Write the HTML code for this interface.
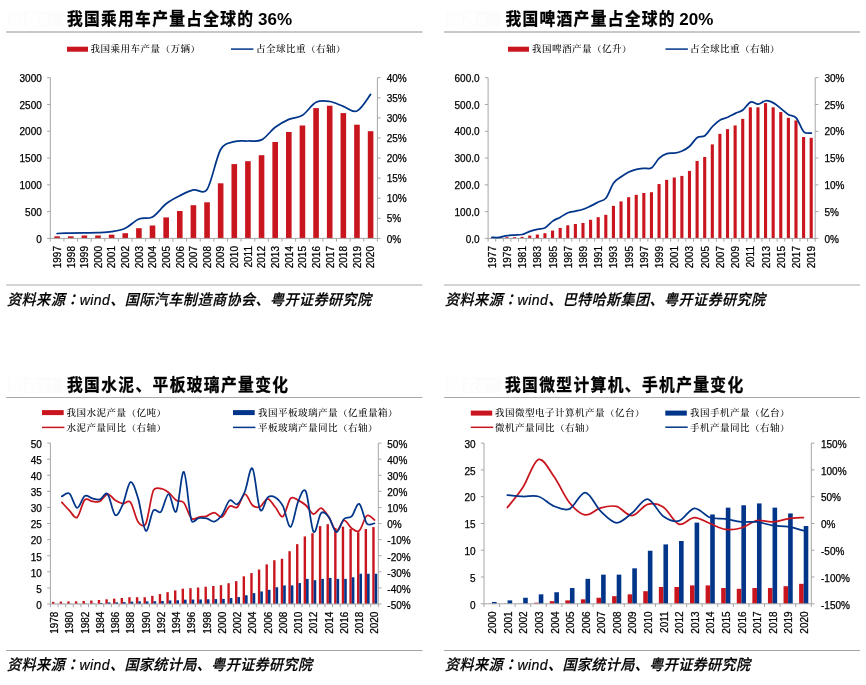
<!DOCTYPE html>
<html lang="zh-CN"><head><meta charset="utf-8"><title>charts</title>
<style>html,body{margin:0;padding:0;background:#fff}svg{display:block}</style></head>
<body>
<svg width="866" height="685" viewBox="0 0 866 685">
<rect width="866" height="685" fill="#fff"/>
<rect x="8.1" y="11.5" width="55" height="15" fill="#fcfcfc"/>
<text x="10.1" y="25" font-size="15" font-family='"Liberation Sans", "Noto Sans CJK SC", sans-serif' text-anchor="start" font-weight="bold" font-style="normal" fill="#ffffff">图表5：</text>
<text transform="translate(67 25) scale(0.9 1)" font-size="17.5" font-family='"Liberation Sans", "Noto Sans CJK SC", sans-serif' text-anchor="start" font-weight="bold" font-style="normal" fill="#000" textLength="206.67" lengthAdjust="spacing" stroke="#000" stroke-width="0.3">我国乘用车产量占全球的</text>
<text x="258" y="24.7" font-size="17" font-family='"Liberation Sans", "Noto Sans CJK SC", sans-serif' text-anchor="start" font-weight="bold" font-style="normal" fill="#000">36%</text>
<line x1="6.1" y1="32" x2="422.5" y2="32" stroke="#c8c8c8" stroke-width="2"/>
<rect x="67" y="46.7" width="21" height="5" fill="#c9151e"/>
<text transform="translate(90.5 49.1) scale(1 0.9)" y="3.5" font-size="9.6" letter-spacing="0.4" font-weight="500" font-family='"Liberation Serif", "Noto Serif CJK SC", serif'>我国乘用车产量（万辆）</text>
<line x1="231" y1="49.1" x2="253.4" y2="49.1" stroke="#00358a" stroke-width="1.5"/>
<text transform="translate(256 49.1) scale(1 0.9)" y="3.5" font-size="9.6" letter-spacing="0.4" font-weight="500" font-family='"Liberation Serif", "Noto Serif CJK SC", serif'>占全球比重（右轴）</text>
<rect x="54.31" y="236.3" width="5.6" height="2.1" fill="#c9151e"/>
<rect x="67.94" y="236.3" width="5.6" height="2.1" fill="#c9151e"/>
<rect x="81.57" y="235.5" width="5.6" height="2.9" fill="#c9151e"/>
<rect x="95.2" y="235.5" width="5.6" height="2.9" fill="#c9151e"/>
<rect x="108.83" y="234.7" width="5.6" height="3.7" fill="#c9151e"/>
<rect x="122.46" y="233.2" width="5.6" height="5.2" fill="#c9151e"/>
<rect x="136.09" y="228.2" width="5.6" height="10.2" fill="#c9151e"/>
<rect x="149.72" y="225.5" width="5.6" height="12.9" fill="#c9151e"/>
<rect x="163.35" y="217.4" width="5.6" height="21" fill="#c9151e"/>
<rect x="176.98" y="211" width="5.6" height="27.4" fill="#c9151e"/>
<rect x="190.61" y="205.2" width="5.6" height="33.2" fill="#c9151e"/>
<rect x="204.24" y="202.3" width="5.6" height="36.1" fill="#c9151e"/>
<rect x="217.86" y="183.3" width="5.6" height="55.1" fill="#c9151e"/>
<rect x="231.49" y="164.1" width="5.6" height="74.3" fill="#c9151e"/>
<rect x="245.12" y="161.2" width="5.6" height="77.2" fill="#c9151e"/>
<rect x="258.75" y="155.2" width="5.6" height="83.2" fill="#c9151e"/>
<rect x="272.38" y="142" width="5.6" height="96.4" fill="#c9151e"/>
<rect x="286.01" y="132" width="5.6" height="106.4" fill="#c9151e"/>
<rect x="299.64" y="125.5" width="5.6" height="112.9" fill="#c9151e"/>
<rect x="313.27" y="108.1" width="5.6" height="130.3" fill="#c9151e"/>
<rect x="326.9" y="105.7" width="5.6" height="132.7" fill="#c9151e"/>
<rect x="340.53" y="113.1" width="5.6" height="125.3" fill="#c9151e"/>
<rect x="354.16" y="124.7" width="5.6" height="113.7" fill="#c9151e"/>
<rect x="367.79" y="131.2" width="5.6" height="107.2" fill="#c9151e"/>
<g stroke="#a6a6a6" stroke-width="1" fill="none">
<line x1="50.3" y1="77.7" x2="50.3" y2="238.4"/>
<line x1="377.4" y1="77.7" x2="377.4" y2="238.4"/>
<line x1="50.3" y1="238.4" x2="377.4" y2="238.4"/>
<line x1="47.1" y1="77.7" x2="50.3" y2="77.7"/>
<line x1="47.1" y1="104.48" x2="50.3" y2="104.48"/>
<line x1="47.1" y1="131.27" x2="50.3" y2="131.27"/>
<line x1="47.1" y1="158.05" x2="50.3" y2="158.05"/>
<line x1="47.1" y1="184.83" x2="50.3" y2="184.83"/>
<line x1="47.1" y1="211.62" x2="50.3" y2="211.62"/>
<line x1="47.1" y1="238.4" x2="50.3" y2="238.4"/>
<line x1="377.4" y1="77.7" x2="380.6" y2="77.7"/>
<line x1="377.4" y1="97.79" x2="380.6" y2="97.79"/>
<line x1="377.4" y1="117.88" x2="380.6" y2="117.88"/>
<line x1="377.4" y1="137.96" x2="380.6" y2="137.96"/>
<line x1="377.4" y1="158.05" x2="380.6" y2="158.05"/>
<line x1="377.4" y1="178.14" x2="380.6" y2="178.14"/>
<line x1="377.4" y1="198.22" x2="380.6" y2="198.22"/>
<line x1="377.4" y1="218.31" x2="380.6" y2="218.31"/>
<line x1="377.4" y1="238.4" x2="380.6" y2="238.4"/>
<line x1="50.3" y1="238.4" x2="50.3" y2="241.6"/>
<line x1="63.93" y1="238.4" x2="63.93" y2="241.6"/>
<line x1="77.56" y1="238.4" x2="77.56" y2="241.6"/>
<line x1="91.19" y1="238.4" x2="91.19" y2="241.6"/>
<line x1="104.82" y1="238.4" x2="104.82" y2="241.6"/>
<line x1="118.45" y1="238.4" x2="118.45" y2="241.6"/>
<line x1="132.07" y1="238.4" x2="132.07" y2="241.6"/>
<line x1="145.7" y1="238.4" x2="145.7" y2="241.6"/>
<line x1="159.33" y1="238.4" x2="159.33" y2="241.6"/>
<line x1="172.96" y1="238.4" x2="172.96" y2="241.6"/>
<line x1="186.59" y1="238.4" x2="186.59" y2="241.6"/>
<line x1="200.22" y1="238.4" x2="200.22" y2="241.6"/>
<line x1="213.85" y1="238.4" x2="213.85" y2="241.6"/>
<line x1="227.48" y1="238.4" x2="227.48" y2="241.6"/>
<line x1="241.11" y1="238.4" x2="241.11" y2="241.6"/>
<line x1="254.74" y1="238.4" x2="254.74" y2="241.6"/>
<line x1="268.37" y1="238.4" x2="268.37" y2="241.6"/>
<line x1="282" y1="238.4" x2="282" y2="241.6"/>
<line x1="295.62" y1="238.4" x2="295.62" y2="241.6"/>
<line x1="309.25" y1="238.4" x2="309.25" y2="241.6"/>
<line x1="322.88" y1="238.4" x2="322.88" y2="241.6"/>
<line x1="336.51" y1="238.4" x2="336.51" y2="241.6"/>
<line x1="350.14" y1="238.4" x2="350.14" y2="241.6"/>
<line x1="363.77" y1="238.4" x2="363.77" y2="241.6"/>
<line x1="377.4" y1="238.4" x2="377.4" y2="241.6"/>
</g>
<text x="41.8" y="81.8" font-size="10" font-family='"Liberation Sans", "Noto Sans CJK SC", sans-serif' text-anchor="end" font-weight="normal" font-style="normal" fill="#000" stroke="#000" stroke-width="0.25">3000</text>
<text x="41.8" y="108.58" font-size="10" font-family='"Liberation Sans", "Noto Sans CJK SC", sans-serif' text-anchor="end" font-weight="normal" font-style="normal" fill="#000" stroke="#000" stroke-width="0.25">2500</text>
<text x="41.8" y="135.37" font-size="10" font-family='"Liberation Sans", "Noto Sans CJK SC", sans-serif' text-anchor="end" font-weight="normal" font-style="normal" fill="#000" stroke="#000" stroke-width="0.25">2000</text>
<text x="41.8" y="162.15" font-size="10" font-family='"Liberation Sans", "Noto Sans CJK SC", sans-serif' text-anchor="end" font-weight="normal" font-style="normal" fill="#000" stroke="#000" stroke-width="0.25">1500</text>
<text x="41.8" y="188.93" font-size="10" font-family='"Liberation Sans", "Noto Sans CJK SC", sans-serif' text-anchor="end" font-weight="normal" font-style="normal" fill="#000" stroke="#000" stroke-width="0.25">1000</text>
<text x="41.8" y="215.72" font-size="10" font-family='"Liberation Sans", "Noto Sans CJK SC", sans-serif' text-anchor="end" font-weight="normal" font-style="normal" fill="#000" stroke="#000" stroke-width="0.25">500</text>
<text x="41.8" y="242.5" font-size="10" font-family='"Liberation Sans", "Noto Sans CJK SC", sans-serif' text-anchor="end" font-weight="normal" font-style="normal" fill="#000" stroke="#000" stroke-width="0.25">0</text>
<text x="386.7" y="81.8" font-size="10" font-family='"Liberation Sans", "Noto Sans CJK SC", sans-serif' text-anchor="start" font-weight="normal" font-style="normal" fill="#000" stroke="#000" stroke-width="0.25">40%</text>
<text x="386.7" y="101.89" font-size="10" font-family='"Liberation Sans", "Noto Sans CJK SC", sans-serif' text-anchor="start" font-weight="normal" font-style="normal" fill="#000" stroke="#000" stroke-width="0.25">35%</text>
<text x="386.7" y="121.97" font-size="10" font-family='"Liberation Sans", "Noto Sans CJK SC", sans-serif' text-anchor="start" font-weight="normal" font-style="normal" fill="#000" stroke="#000" stroke-width="0.25">30%</text>
<text x="386.7" y="142.06" font-size="10" font-family='"Liberation Sans", "Noto Sans CJK SC", sans-serif' text-anchor="start" font-weight="normal" font-style="normal" fill="#000" stroke="#000" stroke-width="0.25">25%</text>
<text x="386.7" y="162.15" font-size="10" font-family='"Liberation Sans", "Noto Sans CJK SC", sans-serif' text-anchor="start" font-weight="normal" font-style="normal" fill="#000" stroke="#000" stroke-width="0.25">20%</text>
<text x="386.7" y="182.24" font-size="10" font-family='"Liberation Sans", "Noto Sans CJK SC", sans-serif' text-anchor="start" font-weight="normal" font-style="normal" fill="#000" stroke="#000" stroke-width="0.25">15%</text>
<text x="386.7" y="202.32" font-size="10" font-family='"Liberation Sans", "Noto Sans CJK SC", sans-serif' text-anchor="start" font-weight="normal" font-style="normal" fill="#000" stroke="#000" stroke-width="0.25">10%</text>
<text x="386.7" y="222.41" font-size="10" font-family='"Liberation Sans", "Noto Sans CJK SC", sans-serif' text-anchor="start" font-weight="normal" font-style="normal" fill="#000" stroke="#000" stroke-width="0.25">5%</text>
<text x="386.7" y="242.5" font-size="10" font-family='"Liberation Sans", "Noto Sans CJK SC", sans-serif' text-anchor="start" font-weight="normal" font-style="normal" fill="#000" stroke="#000" stroke-width="0.25">0%</text>
<text transform="translate(60.91 246) rotate(-90)" font-size="10" font-family='"Liberation Sans", "Noto Sans CJK SC", sans-serif' text-anchor="end" stroke="#000" stroke-width="0.25">1997</text>
<text transform="translate(74.54 246) rotate(-90)" font-size="10" font-family='"Liberation Sans", "Noto Sans CJK SC", sans-serif' text-anchor="end" stroke="#000" stroke-width="0.25">1998</text>
<text transform="translate(88.17 246) rotate(-90)" font-size="10" font-family='"Liberation Sans", "Noto Sans CJK SC", sans-serif' text-anchor="end" stroke="#000" stroke-width="0.25">1999</text>
<text transform="translate(101.8 246) rotate(-90)" font-size="10" font-family='"Liberation Sans", "Noto Sans CJK SC", sans-serif' text-anchor="end" stroke="#000" stroke-width="0.25">2000</text>
<text transform="translate(115.43 246) rotate(-90)" font-size="10" font-family='"Liberation Sans", "Noto Sans CJK SC", sans-serif' text-anchor="end" stroke="#000" stroke-width="0.25">2001</text>
<text transform="translate(129.06 246) rotate(-90)" font-size="10" font-family='"Liberation Sans", "Noto Sans CJK SC", sans-serif' text-anchor="end" stroke="#000" stroke-width="0.25">2002</text>
<text transform="translate(142.69 246) rotate(-90)" font-size="10" font-family='"Liberation Sans", "Noto Sans CJK SC", sans-serif' text-anchor="end" stroke="#000" stroke-width="0.25">2003</text>
<text transform="translate(156.32 246) rotate(-90)" font-size="10" font-family='"Liberation Sans", "Noto Sans CJK SC", sans-serif' text-anchor="end" stroke="#000" stroke-width="0.25">2004</text>
<text transform="translate(169.95 246) rotate(-90)" font-size="10" font-family='"Liberation Sans", "Noto Sans CJK SC", sans-serif' text-anchor="end" stroke="#000" stroke-width="0.25">2005</text>
<text transform="translate(183.58 246) rotate(-90)" font-size="10" font-family='"Liberation Sans", "Noto Sans CJK SC", sans-serif' text-anchor="end" stroke="#000" stroke-width="0.25">2006</text>
<text transform="translate(197.21 246) rotate(-90)" font-size="10" font-family='"Liberation Sans", "Noto Sans CJK SC", sans-serif' text-anchor="end" stroke="#000" stroke-width="0.25">2007</text>
<text transform="translate(210.84 246) rotate(-90)" font-size="10" font-family='"Liberation Sans", "Noto Sans CJK SC", sans-serif' text-anchor="end" stroke="#000" stroke-width="0.25">2008</text>
<text transform="translate(224.46 246) rotate(-90)" font-size="10" font-family='"Liberation Sans", "Noto Sans CJK SC", sans-serif' text-anchor="end" stroke="#000" stroke-width="0.25">2009</text>
<text transform="translate(238.09 246) rotate(-90)" font-size="10" font-family='"Liberation Sans", "Noto Sans CJK SC", sans-serif' text-anchor="end" stroke="#000" stroke-width="0.25">2010</text>
<text transform="translate(251.72 246) rotate(-90)" font-size="10" font-family='"Liberation Sans", "Noto Sans CJK SC", sans-serif' text-anchor="end" stroke="#000" stroke-width="0.25">2011</text>
<text transform="translate(265.35 246) rotate(-90)" font-size="10" font-family='"Liberation Sans", "Noto Sans CJK SC", sans-serif' text-anchor="end" stroke="#000" stroke-width="0.25">2012</text>
<text transform="translate(278.98 246) rotate(-90)" font-size="10" font-family='"Liberation Sans", "Noto Sans CJK SC", sans-serif' text-anchor="end" stroke="#000" stroke-width="0.25">2013</text>
<text transform="translate(292.61 246) rotate(-90)" font-size="10" font-family='"Liberation Sans", "Noto Sans CJK SC", sans-serif' text-anchor="end" stroke="#000" stroke-width="0.25">2014</text>
<text transform="translate(306.24 246) rotate(-90)" font-size="10" font-family='"Liberation Sans", "Noto Sans CJK SC", sans-serif' text-anchor="end" stroke="#000" stroke-width="0.25">2015</text>
<text transform="translate(319.87 246) rotate(-90)" font-size="10" font-family='"Liberation Sans", "Noto Sans CJK SC", sans-serif' text-anchor="end" stroke="#000" stroke-width="0.25">2016</text>
<text transform="translate(333.5 246) rotate(-90)" font-size="10" font-family='"Liberation Sans", "Noto Sans CJK SC", sans-serif' text-anchor="end" stroke="#000" stroke-width="0.25">2017</text>
<text transform="translate(347.13 246) rotate(-90)" font-size="10" font-family='"Liberation Sans", "Noto Sans CJK SC", sans-serif' text-anchor="end" stroke="#000" stroke-width="0.25">2018</text>
<text transform="translate(360.76 246) rotate(-90)" font-size="10" font-family='"Liberation Sans", "Noto Sans CJK SC", sans-serif' text-anchor="end" stroke="#000" stroke-width="0.25">2019</text>
<text transform="translate(374.39 246) rotate(-90)" font-size="10" font-family='"Liberation Sans", "Noto Sans CJK SC", sans-serif' text-anchor="end" stroke="#000" stroke-width="0.25">2020</text>
<path d="M57.11 233.5C59.39 233.43 66.2 233.2 70.74 233.1C75.29 233 79.83 232.97 84.37 232.9C88.92 232.83 93.46 232.9 98 232.7C102.55 232.5 107.09 232.43 111.63 231.7C116.17 230.97 120.72 230.42 125.26 228.3C129.8 226.18 134.35 220.9 138.89 219C143.43 217.1 147.98 219.43 152.52 216.9C157.06 214.37 161.6 207.33 166.15 203.8C170.69 200.27 175.23 198.02 179.78 195.7C184.32 193.38 188.86 190.93 193.41 189.9C197.95 188.87 203.22 195.15 207.04 189.5C211.58 182.77 216.12 157.47 220.66 149.5C224.55 142.68 229.75 143.12 234.29 141.7C238.84 140.28 243.38 141.3 247.92 141C252.47 140.7 257.01 142.18 261.55 139.9C266.1 137.62 270.64 130.72 275.18 127.3C279.72 123.88 284.27 121.42 288.81 119.4C293.35 117.38 297.9 118.05 302.44 115.2C306.98 112.35 311.53 104.58 316.07 102.3C320.61 100.02 325.15 100.83 329.7 101.5C334.24 102.17 338.78 104.72 343.33 106.3C347.87 107.88 352.41 112.98 356.96 111C361.5 109.02 368.31 97.17 370.59 94.4" fill="none" stroke="#00358a" stroke-width="1.75" stroke-linecap="round" stroke-linejoin="round"/>
<line x1="6.1" y1="285" x2="422.5" y2="285" stroke="#d4d4d4" stroke-width="2"/>
<text transform="translate(7.1 305) scale(0.94 1)" font-size="15" font-family='"Liberation Sans", "Noto Sans CJK SC", sans-serif' text-anchor="start" font-weight="500" font-style="italic" fill="#000" textLength="387.23" lengthAdjust="spacing" stroke="#000" stroke-width="0.2">资料来源<tspan lang="ja" font-family='"Noto Sans CJK JP", sans-serif'>：</tspan>wind、国际汽车制造商协会、粤开证券研究院</text>
<rect x="446.1" y="11.5" width="55" height="15" fill="#fcfcfc"/>
<text x="448.1" y="25" font-size="15" font-family='"Liberation Sans", "Noto Sans CJK SC", sans-serif' text-anchor="start" font-weight="bold" font-style="normal" fill="#ffffff">图表6：</text>
<text transform="translate(505.5 25) scale(0.9 1)" font-size="17.5" font-family='"Liberation Sans", "Noto Sans CJK SC", sans-serif' text-anchor="start" font-weight="bold" font-style="normal" fill="#000" textLength="187.78" lengthAdjust="spacing" stroke="#000" stroke-width="0.3">我国啤酒产量占全球的</text>
<text x="679.3" y="24.7" font-size="17" font-family='"Liberation Sans", "Noto Sans CJK SC", sans-serif' text-anchor="start" font-weight="bold" font-style="normal" fill="#000">20%</text>
<line x1="444.1" y1="32" x2="860" y2="32" stroke="#c8c8c8" stroke-width="2"/>
<rect x="508" y="46.7" width="21" height="5" fill="#c9151e"/>
<text transform="translate(532 49.1) scale(1 0.9)" y="3.5" font-size="9.6" letter-spacing="0.4" font-weight="500" font-family='"Liberation Serif", "Noto Serif CJK SC", serif'>我国啤酒产量（亿升）</text>
<line x1="665.5" y1="49.1" x2="687.9" y2="49.1" stroke="#00358a" stroke-width="1.5"/>
<text transform="translate(690 49.1) scale(1 0.9)" y="3.5" font-size="9.6" letter-spacing="0.4" font-weight="500" font-family='"Liberation Serif", "Noto Serif CJK SC", serif'>占全球比重（右轴）</text>
<rect x="490.15" y="237.94" width="3.1" height="0.46" fill="#c9151e"/>
<rect x="497.76" y="237.67" width="3.1" height="0.73" fill="#c9151e"/>
<rect x="505.37" y="237.15" width="3.1" height="1.25" fill="#c9151e"/>
<rect x="512.97" y="237.15" width="3.1" height="1.25" fill="#c9151e"/>
<rect x="520.58" y="236.89" width="3.1" height="1.51" fill="#c9151e"/>
<rect x="528.19" y="235.57" width="3.1" height="2.83" fill="#c9151e"/>
<rect x="535.8" y="234.52" width="3.1" height="3.88" fill="#c9151e"/>
<rect x="543.4" y="233.21" width="3.1" height="5.19" fill="#c9151e"/>
<rect x="551.01" y="230.58" width="3.1" height="7.82" fill="#c9151e"/>
<rect x="558.62" y="227.95" width="3.1" height="10.45" fill="#c9151e"/>
<rect x="566.22" y="225.32" width="3.1" height="13.08" fill="#c9151e"/>
<rect x="573.83" y="224.01" width="3.1" height="14.39" fill="#c9151e"/>
<rect x="581.44" y="222.96" width="3.1" height="15.44" fill="#c9151e"/>
<rect x="589.04" y="219.8" width="3.1" height="18.6" fill="#c9151e"/>
<rect x="596.65" y="217.17" width="3.1" height="21.23" fill="#c9151e"/>
<rect x="604.26" y="214.81" width="3.1" height="23.59" fill="#c9151e"/>
<rect x="611.87" y="205.87" width="3.1" height="32.53" fill="#c9151e"/>
<rect x="619.47" y="201.41" width="3.1" height="36.99" fill="#c9151e"/>
<rect x="627.08" y="197.2" width="3.1" height="41.2" fill="#c9151e"/>
<rect x="634.69" y="194.84" width="3.1" height="43.56" fill="#c9151e"/>
<rect x="642.29" y="193" width="3.1" height="45.4" fill="#c9151e"/>
<rect x="649.9" y="192.21" width="3.1" height="46.19" fill="#c9151e"/>
<rect x="657.51" y="184.06" width="3.1" height="54.34" fill="#c9151e"/>
<rect x="665.11" y="179.86" width="3.1" height="58.54" fill="#c9151e"/>
<rect x="672.72" y="177.49" width="3.1" height="60.91" fill="#c9151e"/>
<rect x="680.33" y="175.91" width="3.1" height="62.49" fill="#c9151e"/>
<rect x="687.93" y="170.92" width="3.1" height="67.48" fill="#c9151e"/>
<rect x="695.54" y="160.93" width="3.1" height="77.47" fill="#c9151e"/>
<rect x="703.15" y="156.99" width="3.1" height="81.41" fill="#c9151e"/>
<rect x="710.76" y="144.38" width="3.1" height="94.02" fill="#c9151e"/>
<rect x="718.36" y="133.86" width="3.1" height="104.54" fill="#c9151e"/>
<rect x="725.97" y="129.13" width="3.1" height="109.27" fill="#c9151e"/>
<rect x="733.58" y="125.45" width="3.1" height="112.95" fill="#c9151e"/>
<rect x="741.18" y="118.88" width="3.1" height="119.52" fill="#c9151e"/>
<rect x="748.79" y="107.32" width="3.1" height="131.08" fill="#c9151e"/>
<rect x="756.4" y="107.32" width="3.1" height="131.08" fill="#c9151e"/>
<rect x="764" y="103.11" width="3.1" height="135.29" fill="#c9151e"/>
<rect x="771.61" y="107.32" width="3.1" height="131.08" fill="#c9151e"/>
<rect x="779.22" y="112.05" width="3.1" height="126.35" fill="#c9151e"/>
<rect x="786.83" y="117.83" width="3.1" height="120.57" fill="#c9151e"/>
<rect x="794.43" y="120.46" width="3.1" height="117.94" fill="#c9151e"/>
<rect x="802.04" y="137.02" width="3.1" height="101.38" fill="#c9151e"/>
<rect x="809.65" y="137.81" width="3.1" height="100.59" fill="#c9151e"/>
<g stroke="#a6a6a6" stroke-width="1" fill="none">
<line x1="488.1" y1="77.7" x2="488.1" y2="238.4"/>
<line x1="815.2" y1="77.7" x2="815.2" y2="238.4"/>
<line x1="488.1" y1="238.4" x2="815.2" y2="238.4"/>
<line x1="484.9" y1="77.7" x2="488.1" y2="77.7"/>
<line x1="484.9" y1="104.48" x2="488.1" y2="104.48"/>
<line x1="484.9" y1="131.27" x2="488.1" y2="131.27"/>
<line x1="484.9" y1="158.05" x2="488.1" y2="158.05"/>
<line x1="484.9" y1="184.83" x2="488.1" y2="184.83"/>
<line x1="484.9" y1="211.62" x2="488.1" y2="211.62"/>
<line x1="484.9" y1="238.4" x2="488.1" y2="238.4"/>
<line x1="815.2" y1="77.7" x2="818.4" y2="77.7"/>
<line x1="815.2" y1="104.48" x2="818.4" y2="104.48"/>
<line x1="815.2" y1="131.27" x2="818.4" y2="131.27"/>
<line x1="815.2" y1="158.05" x2="818.4" y2="158.05"/>
<line x1="815.2" y1="184.83" x2="818.4" y2="184.83"/>
<line x1="815.2" y1="211.62" x2="818.4" y2="211.62"/>
<line x1="815.2" y1="238.4" x2="818.4" y2="238.4"/>
<line x1="488.1" y1="238.4" x2="488.1" y2="241.6"/>
<line x1="495.71" y1="238.4" x2="495.71" y2="241.6"/>
<line x1="503.31" y1="238.4" x2="503.31" y2="241.6"/>
<line x1="510.92" y1="238.4" x2="510.92" y2="241.6"/>
<line x1="518.53" y1="238.4" x2="518.53" y2="241.6"/>
<line x1="526.13" y1="238.4" x2="526.13" y2="241.6"/>
<line x1="533.74" y1="238.4" x2="533.74" y2="241.6"/>
<line x1="541.35" y1="238.4" x2="541.35" y2="241.6"/>
<line x1="548.96" y1="238.4" x2="548.96" y2="241.6"/>
<line x1="556.56" y1="238.4" x2="556.56" y2="241.6"/>
<line x1="564.17" y1="238.4" x2="564.17" y2="241.6"/>
<line x1="571.78" y1="238.4" x2="571.78" y2="241.6"/>
<line x1="579.38" y1="238.4" x2="579.38" y2="241.6"/>
<line x1="586.99" y1="238.4" x2="586.99" y2="241.6"/>
<line x1="594.6" y1="238.4" x2="594.6" y2="241.6"/>
<line x1="602.2" y1="238.4" x2="602.2" y2="241.6"/>
<line x1="609.81" y1="238.4" x2="609.81" y2="241.6"/>
<line x1="617.42" y1="238.4" x2="617.42" y2="241.6"/>
<line x1="625.03" y1="238.4" x2="625.03" y2="241.6"/>
<line x1="632.63" y1="238.4" x2="632.63" y2="241.6"/>
<line x1="640.24" y1="238.4" x2="640.24" y2="241.6"/>
<line x1="647.85" y1="238.4" x2="647.85" y2="241.6"/>
<line x1="655.45" y1="238.4" x2="655.45" y2="241.6"/>
<line x1="663.06" y1="238.4" x2="663.06" y2="241.6"/>
<line x1="670.67" y1="238.4" x2="670.67" y2="241.6"/>
<line x1="678.27" y1="238.4" x2="678.27" y2="241.6"/>
<line x1="685.88" y1="238.4" x2="685.88" y2="241.6"/>
<line x1="693.49" y1="238.4" x2="693.49" y2="241.6"/>
<line x1="701.1" y1="238.4" x2="701.1" y2="241.6"/>
<line x1="708.7" y1="238.4" x2="708.7" y2="241.6"/>
<line x1="716.31" y1="238.4" x2="716.31" y2="241.6"/>
<line x1="723.92" y1="238.4" x2="723.92" y2="241.6"/>
<line x1="731.52" y1="238.4" x2="731.52" y2="241.6"/>
<line x1="739.13" y1="238.4" x2="739.13" y2="241.6"/>
<line x1="746.74" y1="238.4" x2="746.74" y2="241.6"/>
<line x1="754.34" y1="238.4" x2="754.34" y2="241.6"/>
<line x1="761.95" y1="238.4" x2="761.95" y2="241.6"/>
<line x1="769.56" y1="238.4" x2="769.56" y2="241.6"/>
<line x1="777.17" y1="238.4" x2="777.17" y2="241.6"/>
<line x1="784.77" y1="238.4" x2="784.77" y2="241.6"/>
<line x1="792.38" y1="238.4" x2="792.38" y2="241.6"/>
<line x1="799.99" y1="238.4" x2="799.99" y2="241.6"/>
<line x1="807.59" y1="238.4" x2="807.59" y2="241.6"/>
<line x1="815.2" y1="238.4" x2="815.2" y2="241.6"/>
</g>
<text x="479.6" y="81.8" font-size="10" font-family='"Liberation Sans", "Noto Sans CJK SC", sans-serif' text-anchor="end" font-weight="normal" font-style="normal" fill="#000" stroke="#000" stroke-width="0.25">600.0</text>
<text x="479.6" y="108.58" font-size="10" font-family='"Liberation Sans", "Noto Sans CJK SC", sans-serif' text-anchor="end" font-weight="normal" font-style="normal" fill="#000" stroke="#000" stroke-width="0.25">500.0</text>
<text x="479.6" y="135.37" font-size="10" font-family='"Liberation Sans", "Noto Sans CJK SC", sans-serif' text-anchor="end" font-weight="normal" font-style="normal" fill="#000" stroke="#000" stroke-width="0.25">400.0</text>
<text x="479.6" y="162.15" font-size="10" font-family='"Liberation Sans", "Noto Sans CJK SC", sans-serif' text-anchor="end" font-weight="normal" font-style="normal" fill="#000" stroke="#000" stroke-width="0.25">300.0</text>
<text x="479.6" y="188.93" font-size="10" font-family='"Liberation Sans", "Noto Sans CJK SC", sans-serif' text-anchor="end" font-weight="normal" font-style="normal" fill="#000" stroke="#000" stroke-width="0.25">200.0</text>
<text x="479.6" y="215.72" font-size="10" font-family='"Liberation Sans", "Noto Sans CJK SC", sans-serif' text-anchor="end" font-weight="normal" font-style="normal" fill="#000" stroke="#000" stroke-width="0.25">100.0</text>
<text x="479.6" y="242.5" font-size="10" font-family='"Liberation Sans", "Noto Sans CJK SC", sans-serif' text-anchor="end" font-weight="normal" font-style="normal" fill="#000" stroke="#000" stroke-width="0.25">0.0</text>
<text x="824.5" y="81.8" font-size="10" font-family='"Liberation Sans", "Noto Sans CJK SC", sans-serif' text-anchor="start" font-weight="normal" font-style="normal" fill="#000" stroke="#000" stroke-width="0.25">30%</text>
<text x="824.5" y="108.58" font-size="10" font-family='"Liberation Sans", "Noto Sans CJK SC", sans-serif' text-anchor="start" font-weight="normal" font-style="normal" fill="#000" stroke="#000" stroke-width="0.25">25%</text>
<text x="824.5" y="135.37" font-size="10" font-family='"Liberation Sans", "Noto Sans CJK SC", sans-serif' text-anchor="start" font-weight="normal" font-style="normal" fill="#000" stroke="#000" stroke-width="0.25">20%</text>
<text x="824.5" y="162.15" font-size="10" font-family='"Liberation Sans", "Noto Sans CJK SC", sans-serif' text-anchor="start" font-weight="normal" font-style="normal" fill="#000" stroke="#000" stroke-width="0.25">15%</text>
<text x="824.5" y="188.93" font-size="10" font-family='"Liberation Sans", "Noto Sans CJK SC", sans-serif' text-anchor="start" font-weight="normal" font-style="normal" fill="#000" stroke="#000" stroke-width="0.25">10%</text>
<text x="824.5" y="215.72" font-size="10" font-family='"Liberation Sans", "Noto Sans CJK SC", sans-serif' text-anchor="start" font-weight="normal" font-style="normal" fill="#000" stroke="#000" stroke-width="0.25">5%</text>
<text x="824.5" y="242.5" font-size="10" font-family='"Liberation Sans", "Noto Sans CJK SC", sans-serif' text-anchor="start" font-weight="normal" font-style="normal" fill="#000" stroke="#000" stroke-width="0.25">0%</text>
<text transform="translate(495.7 246) rotate(-90)" font-size="10" font-family='"Liberation Sans", "Noto Sans CJK SC", sans-serif' text-anchor="end" stroke="#000" stroke-width="0.25">1977</text>
<text transform="translate(510.92 246) rotate(-90)" font-size="10" font-family='"Liberation Sans", "Noto Sans CJK SC", sans-serif' text-anchor="end" stroke="#000" stroke-width="0.25">1979</text>
<text transform="translate(526.13 246) rotate(-90)" font-size="10" font-family='"Liberation Sans", "Noto Sans CJK SC", sans-serif' text-anchor="end" stroke="#000" stroke-width="0.25">1981</text>
<text transform="translate(541.35 246) rotate(-90)" font-size="10" font-family='"Liberation Sans", "Noto Sans CJK SC", sans-serif' text-anchor="end" stroke="#000" stroke-width="0.25">1983</text>
<text transform="translate(556.56 246) rotate(-90)" font-size="10" font-family='"Liberation Sans", "Noto Sans CJK SC", sans-serif' text-anchor="end" stroke="#000" stroke-width="0.25">1985</text>
<text transform="translate(571.77 246) rotate(-90)" font-size="10" font-family='"Liberation Sans", "Noto Sans CJK SC", sans-serif' text-anchor="end" stroke="#000" stroke-width="0.25">1987</text>
<text transform="translate(586.99 246) rotate(-90)" font-size="10" font-family='"Liberation Sans", "Noto Sans CJK SC", sans-serif' text-anchor="end" stroke="#000" stroke-width="0.25">1989</text>
<text transform="translate(602.2 246) rotate(-90)" font-size="10" font-family='"Liberation Sans", "Noto Sans CJK SC", sans-serif' text-anchor="end" stroke="#000" stroke-width="0.25">1991</text>
<text transform="translate(617.42 246) rotate(-90)" font-size="10" font-family='"Liberation Sans", "Noto Sans CJK SC", sans-serif' text-anchor="end" stroke="#000" stroke-width="0.25">1993</text>
<text transform="translate(632.63 246) rotate(-90)" font-size="10" font-family='"Liberation Sans", "Noto Sans CJK SC", sans-serif' text-anchor="end" stroke="#000" stroke-width="0.25">1995</text>
<text transform="translate(647.84 246) rotate(-90)" font-size="10" font-family='"Liberation Sans", "Noto Sans CJK SC", sans-serif' text-anchor="end" stroke="#000" stroke-width="0.25">1997</text>
<text transform="translate(663.06 246) rotate(-90)" font-size="10" font-family='"Liberation Sans", "Noto Sans CJK SC", sans-serif' text-anchor="end" stroke="#000" stroke-width="0.25">1999</text>
<text transform="translate(678.27 246) rotate(-90)" font-size="10" font-family='"Liberation Sans", "Noto Sans CJK SC", sans-serif' text-anchor="end" stroke="#000" stroke-width="0.25">2001</text>
<text transform="translate(693.48 246) rotate(-90)" font-size="10" font-family='"Liberation Sans", "Noto Sans CJK SC", sans-serif' text-anchor="end" stroke="#000" stroke-width="0.25">2003</text>
<text transform="translate(708.7 246) rotate(-90)" font-size="10" font-family='"Liberation Sans", "Noto Sans CJK SC", sans-serif' text-anchor="end" stroke="#000" stroke-width="0.25">2005</text>
<text transform="translate(723.91 246) rotate(-90)" font-size="10" font-family='"Liberation Sans", "Noto Sans CJK SC", sans-serif' text-anchor="end" stroke="#000" stroke-width="0.25">2007</text>
<text transform="translate(739.13 246) rotate(-90)" font-size="10" font-family='"Liberation Sans", "Noto Sans CJK SC", sans-serif' text-anchor="end" stroke="#000" stroke-width="0.25">2009</text>
<text transform="translate(754.34 246) rotate(-90)" font-size="10" font-family='"Liberation Sans", "Noto Sans CJK SC", sans-serif' text-anchor="end" stroke="#000" stroke-width="0.25">2011</text>
<text transform="translate(769.55 246) rotate(-90)" font-size="10" font-family='"Liberation Sans", "Noto Sans CJK SC", sans-serif' text-anchor="end" stroke="#000" stroke-width="0.25">2013</text>
<text transform="translate(784.77 246) rotate(-90)" font-size="10" font-family='"Liberation Sans", "Noto Sans CJK SC", sans-serif' text-anchor="end" stroke="#000" stroke-width="0.25">2015</text>
<text transform="translate(799.98 246) rotate(-90)" font-size="10" font-family='"Liberation Sans", "Noto Sans CJK SC", sans-serif' text-anchor="end" stroke="#000" stroke-width="0.25">2017</text>
<text transform="translate(815.2 246) rotate(-90)" font-size="10" font-family='"Liberation Sans", "Noto Sans CJK SC", sans-serif' text-anchor="end" stroke="#000" stroke-width="0.25">2019</text>
<path d="M491.9 237.41C493.17 237.41 496.97 237.72 499.51 237.41C502.05 237.1 504.58 235.97 507.12 235.57C509.65 235.18 512.19 235.22 514.72 235.05C517.26 234.87 519.8 235.13 522.33 234.52C524.87 233.91 527.4 232.24 529.94 231.37C532.47 230.49 535.01 229.88 537.55 229.26C540.08 228.65 542.62 229.05 545.15 227.69C547.69 226.33 550.22 222.87 552.76 221.12C555.29 219.36 557.83 218.58 560.37 217.17C562.9 215.77 565.44 213.71 567.97 212.71C570.51 211.7 573.04 211.7 575.58 211.13C578.12 210.56 580.65 210.17 583.19 209.29C585.72 208.41 588.26 207.1 590.79 205.87C593.33 204.65 595.87 203.25 598.4 201.93C600.94 200.62 603.47 201.14 606.01 197.99C608.54 194.84 611.08 186.56 613.62 183.01C616.15 179.46 618.69 178.54 621.22 176.7C623.76 174.86 626.29 173.2 628.83 171.97C631.36 170.74 633.9 169.96 636.44 169.34C638.97 168.73 641.51 168.55 644.04 168.29C646.58 168.03 649.11 169.47 651.65 167.77C654.19 166.06 656.72 160.41 659.26 158.04C661.79 155.68 664.33 154.41 666.86 153.57C669.4 152.74 671.94 153.49 674.47 153.05C677.01 152.61 679.54 152.08 682.08 150.95C684.61 149.81 687.15 148.45 689.68 146.22C692.22 143.98 694.76 139.29 697.29 137.54C699.83 135.79 702.36 137.54 704.9 135.7C707.43 133.86 709.97 129.13 712.51 126.5C715.04 123.88 717.58 121.47 720.11 119.93C722.65 118.4 725.18 118.4 727.72 117.31C730.26 116.21 732.79 114.59 735.33 113.36C737.86 112.14 740.4 111.83 742.93 109.95C745.47 108.06 748.01 103.03 750.54 102.06C753.08 101.1 755.61 104.38 758.15 104.17C760.68 103.95 763.22 100.97 765.75 100.75C768.29 100.53 770.83 101.54 773.36 102.85C775.9 104.17 778.43 106.66 780.97 108.63C783.5 110.6 786.04 113.14 788.58 114.68C791.11 116.21 793.65 114.98 796.18 117.83C798.72 120.68 801.25 129.22 803.79 131.76C806.33 134.3 810.13 132.86 811.4 133.07" fill="none" stroke="#00358a" stroke-width="1.75" stroke-linecap="round" stroke-linejoin="round"/>
<line x1="444.1" y1="285" x2="860" y2="285" stroke="#d4d4d4" stroke-width="2"/>
<text transform="translate(445.1 305) scale(0.94 1)" font-size="15" font-family='"Liberation Sans", "Noto Sans CJK SC", sans-serif' text-anchor="start" font-weight="500" font-style="italic" fill="#000" textLength="340.43" lengthAdjust="spacing" stroke="#000" stroke-width="0.2">资料来源<tspan lang="ja" font-family='"Noto Sans CJK JP", sans-serif'>：</tspan>wind、巴特哈斯集团、粤开证券研究院</text>
<rect x="8.1" y="377.5" width="55" height="15" fill="#fcfcfc"/>
<text x="10.1" y="391" font-size="15" font-family='"Liberation Sans", "Noto Sans CJK SC", sans-serif' text-anchor="start" font-weight="bold" font-style="normal" fill="#ffffff">图表7：</text>
<text transform="translate(67 391) scale(0.9 1)" font-size="17.5" font-family='"Liberation Sans", "Noto Sans CJK SC", sans-serif' text-anchor="start" font-weight="bold" font-style="normal" fill="#000" textLength="245.56" lengthAdjust="spacing" stroke="#000" stroke-width="0.3">我国水泥、平板玻璃产量变化</text>
<line x1="6.1" y1="397.5" x2="422.5" y2="397.5" stroke="#a8a8a8" stroke-width="1.1"/>
<rect x="42" y="410.1" width="21.7" height="5" fill="#c9151e"/>
<text transform="translate(66.5 412.4) scale(1 0.9)" y="3.5" font-size="9.6" letter-spacing="0.4" font-weight="500" font-family='"Liberation Serif", "Noto Serif CJK SC", serif'>我国水泥产量（亿吨）</text>
<line x1="42" y1="427.4" x2="64.4" y2="427.4" stroke="#c9151e" stroke-width="1.5"/>
<text transform="translate(66.5 427.6) scale(1 0.9)" y="3.5" font-size="9.6" letter-spacing="0.4" font-weight="500" font-family='"Liberation Serif", "Noto Serif CJK SC", serif'>水泥产量同比（右轴）</text>
<rect x="233" y="410.1" width="21.7" height="5" fill="#00358a"/>
<text transform="translate(258 412.4) scale(1 0.9)" y="3.5" font-size="9.6" letter-spacing="0.4" font-weight="500" font-family='"Liberation Serif", "Noto Serif CJK SC", serif'>我国平板玻璃产量（亿重量箱）</text>
<line x1="233" y1="427.4" x2="255.4" y2="427.4" stroke="#00358a" stroke-width="1.5"/>
<text transform="translate(258 427.6) scale(1 0.9)" y="3.5" font-size="9.6" letter-spacing="0.4" font-weight="500" font-family='"Liberation Serif", "Noto Serif CJK SC", serif'>平板玻璃产量同比（右轴）</text>
<rect x="52" y="601.91" width="2.4" height="2.09" fill="#c9151e"/>
<rect x="59.63" y="601.62" width="2.4" height="2.38" fill="#c9151e"/>
<rect x="67.25" y="601.43" width="2.4" height="2.57" fill="#c9151e"/>
<rect x="74.88" y="601.33" width="2.4" height="2.67" fill="#c9151e"/>
<rect x="82.5" y="600.94" width="2.4" height="3.06" fill="#c9151e"/>
<rect x="90.13" y="600.52" width="2.4" height="3.48" fill="#c9151e"/>
<rect x="97.75" y="600.04" width="2.4" height="3.96" fill="#c9151e"/>
<rect x="105.38" y="599.3" width="2.4" height="4.7" fill="#c9151e"/>
<rect x="113" y="598.66" width="2.4" height="5.34" fill="#c9151e"/>
<rect x="120.63" y="598.01" width="2.4" height="5.99" fill="#c9151e"/>
<rect x="128.26" y="597.24" width="2.4" height="6.76" fill="#c9151e"/>
<rect x="135.88" y="597.24" width="2.4" height="6.76" fill="#c9151e"/>
<rect x="143.51" y="597.24" width="2.4" height="6.76" fill="#c9151e"/>
<rect x="151.13" y="595.86" width="2.4" height="8.14" fill="#c9151e"/>
<rect x="158.76" y="594.09" width="2.4" height="9.91" fill="#c9151e"/>
<rect x="166.38" y="592.16" width="2.4" height="11.84" fill="#c9151e"/>
<rect x="174.01" y="590.45" width="2.4" height="13.55" fill="#c9151e"/>
<rect x="181.63" y="588.68" width="2.4" height="15.32" fill="#c9151e"/>
<rect x="189.26" y="588.2" width="2.4" height="15.8" fill="#c9151e"/>
<rect x="196.89" y="587.52" width="2.4" height="16.48" fill="#c9151e"/>
<rect x="204.51" y="586.75" width="2.4" height="17.25" fill="#c9151e"/>
<rect x="212.14" y="585.98" width="2.4" height="18.02" fill="#c9151e"/>
<rect x="219.76" y="585.17" width="2.4" height="18.83" fill="#c9151e"/>
<rect x="227.39" y="583.24" width="2.4" height="20.76" fill="#c9151e"/>
<rect x="235.01" y="581.15" width="2.4" height="22.85" fill="#c9151e"/>
<rect x="242.64" y="576.33" width="2.4" height="27.67" fill="#c9151e"/>
<rect x="250.27" y="573.11" width="2.4" height="30.89" fill="#c9151e"/>
<rect x="257.89" y="569.57" width="2.4" height="34.43" fill="#c9151e"/>
<rect x="265.52" y="564.42" width="2.4" height="39.58" fill="#c9151e"/>
<rect x="273.14" y="560.24" width="2.4" height="43.76" fill="#c9151e"/>
<rect x="280.77" y="558.79" width="2.4" height="45.21" fill="#c9151e"/>
<rect x="288.39" y="551.22" width="2.4" height="52.78" fill="#c9151e"/>
<rect x="296.02" y="544.15" width="2.4" height="59.85" fill="#c9151e"/>
<rect x="303.64" y="536.42" width="2.4" height="67.58" fill="#c9151e"/>
<rect x="311.27" y="533.2" width="2.4" height="70.8" fill="#c9151e"/>
<rect x="318.9" y="526.12" width="2.4" height="77.88" fill="#c9151e"/>
<rect x="326.52" y="524.19" width="2.4" height="79.81" fill="#c9151e"/>
<rect x="334.15" y="528.06" width="2.4" height="75.94" fill="#c9151e"/>
<rect x="341.77" y="526.61" width="2.4" height="77.39" fill="#c9151e"/>
<rect x="349.4" y="529.02" width="2.4" height="74.98" fill="#c9151e"/>
<rect x="357.02" y="532.24" width="2.4" height="71.76" fill="#c9151e"/>
<rect x="364.65" y="529.02" width="2.4" height="74.98" fill="#c9151e"/>
<rect x="372.27" y="527.09" width="2.4" height="76.91" fill="#c9151e"/>
<rect x="54.4" y="603.87" width="2.6" height="0.13" fill="#00358a"/>
<rect x="62.03" y="603.84" width="2.6" height="0.16" fill="#00358a"/>
<rect x="69.65" y="603.81" width="2.6" height="0.19" fill="#00358a"/>
<rect x="77.28" y="603.74" width="2.6" height="0.26" fill="#00358a"/>
<rect x="84.9" y="603.68" width="2.6" height="0.32" fill="#00358a"/>
<rect x="92.53" y="603.52" width="2.6" height="0.48" fill="#00358a"/>
<rect x="100.15" y="603.03" width="2.6" height="0.97" fill="#00358a"/>
<rect x="107.78" y="602.42" width="2.6" height="1.58" fill="#00358a"/>
<rect x="115.4" y="602.33" width="2.6" height="1.67" fill="#00358a"/>
<rect x="123.03" y="602.13" width="2.6" height="1.87" fill="#00358a"/>
<rect x="130.66" y="601.65" width="2.6" height="2.35" fill="#00358a"/>
<rect x="138.28" y="601.3" width="2.6" height="2.7" fill="#00358a"/>
<rect x="145.91" y="601.39" width="2.6" height="2.61" fill="#00358a"/>
<rect x="153.53" y="601.2" width="2.6" height="2.8" fill="#00358a"/>
<rect x="161.16" y="600.98" width="2.6" height="3.02" fill="#00358a"/>
<rect x="168.78" y="600.46" width="2.6" height="3.54" fill="#00358a"/>
<rect x="176.41" y="600.3" width="2.6" height="3.7" fill="#00358a"/>
<rect x="184.03" y="599.66" width="2.6" height="4.34" fill="#00358a"/>
<rect x="191.66" y="599.56" width="2.6" height="4.44" fill="#00358a"/>
<rect x="199.29" y="599.43" width="2.6" height="4.57" fill="#00358a"/>
<rect x="206.91" y="599.27" width="2.6" height="4.73" fill="#00358a"/>
<rect x="214.54" y="599.08" width="2.6" height="4.92" fill="#00358a"/>
<rect x="222.16" y="598.92" width="2.6" height="5.08" fill="#00358a"/>
<rect x="229.79" y="598.08" width="2.6" height="5.92" fill="#00358a"/>
<rect x="237.41" y="597.08" width="2.6" height="6.92" fill="#00358a"/>
<rect x="245.04" y="595.31" width="2.6" height="8.69" fill="#00358a"/>
<rect x="252.67" y="593.16" width="2.6" height="10.84" fill="#00358a"/>
<rect x="260.29" y="591.45" width="2.6" height="12.55" fill="#00358a"/>
<rect x="267.92" y="589.84" width="2.6" height="14.16" fill="#00358a"/>
<rect x="275.54" y="587.27" width="2.6" height="16.73" fill="#00358a"/>
<rect x="283.17" y="585.43" width="2.6" height="18.57" fill="#00358a"/>
<rect x="290.79" y="585.43" width="2.6" height="18.57" fill="#00358a"/>
<rect x="298.42" y="583.08" width="2.6" height="20.92" fill="#00358a"/>
<rect x="306.04" y="578.9" width="2.6" height="25.1" fill="#00358a"/>
<rect x="313.67" y="580.19" width="2.6" height="23.81" fill="#00358a"/>
<rect x="321.3" y="578.9" width="2.6" height="25.1" fill="#00358a"/>
<rect x="328.92" y="577.93" width="2.6" height="26.07" fill="#00358a"/>
<rect x="336.55" y="578.9" width="2.6" height="25.1" fill="#00358a"/>
<rect x="344.17" y="578.9" width="2.6" height="25.1" fill="#00358a"/>
<rect x="351.8" y="577.29" width="2.6" height="26.71" fill="#00358a"/>
<rect x="359.42" y="573.75" width="2.6" height="30.25" fill="#00358a"/>
<rect x="367.05" y="573.75" width="2.6" height="30.25" fill="#00358a"/>
<rect x="374.67" y="573.75" width="2.6" height="30.25" fill="#00358a"/>
<g stroke="#a6a6a6" stroke-width="1" fill="none">
<line x1="50.4" y1="443.1" x2="50.4" y2="604"/>
<line x1="378.3" y1="443.1" x2="378.3" y2="604"/>
<line x1="50.4" y1="604" x2="378.3" y2="604"/>
<line x1="47.2" y1="443.1" x2="50.4" y2="443.1"/>
<line x1="47.2" y1="459.19" x2="50.4" y2="459.19"/>
<line x1="47.2" y1="475.28" x2="50.4" y2="475.28"/>
<line x1="47.2" y1="491.37" x2="50.4" y2="491.37"/>
<line x1="47.2" y1="507.46" x2="50.4" y2="507.46"/>
<line x1="47.2" y1="523.55" x2="50.4" y2="523.55"/>
<line x1="47.2" y1="539.64" x2="50.4" y2="539.64"/>
<line x1="47.2" y1="555.73" x2="50.4" y2="555.73"/>
<line x1="47.2" y1="571.82" x2="50.4" y2="571.82"/>
<line x1="47.2" y1="587.91" x2="50.4" y2="587.91"/>
<line x1="47.2" y1="604" x2="50.4" y2="604"/>
<line x1="378.3" y1="443.1" x2="381.5" y2="443.1"/>
<line x1="378.3" y1="459.19" x2="381.5" y2="459.19"/>
<line x1="378.3" y1="475.28" x2="381.5" y2="475.28"/>
<line x1="378.3" y1="491.37" x2="381.5" y2="491.37"/>
<line x1="378.3" y1="507.46" x2="381.5" y2="507.46"/>
<line x1="378.3" y1="523.55" x2="381.5" y2="523.55"/>
<line x1="378.3" y1="539.64" x2="381.5" y2="539.64"/>
<line x1="378.3" y1="555.73" x2="381.5" y2="555.73"/>
<line x1="378.3" y1="571.82" x2="381.5" y2="571.82"/>
<line x1="378.3" y1="587.91" x2="381.5" y2="587.91"/>
<line x1="378.3" y1="604" x2="381.5" y2="604"/>
<line x1="50.4" y1="604" x2="50.4" y2="607.2"/>
<line x1="58.03" y1="604" x2="58.03" y2="607.2"/>
<line x1="65.65" y1="604" x2="65.65" y2="607.2"/>
<line x1="73.28" y1="604" x2="73.28" y2="607.2"/>
<line x1="80.9" y1="604" x2="80.9" y2="607.2"/>
<line x1="88.53" y1="604" x2="88.53" y2="607.2"/>
<line x1="96.15" y1="604" x2="96.15" y2="607.2"/>
<line x1="103.78" y1="604" x2="103.78" y2="607.2"/>
<line x1="111.4" y1="604" x2="111.4" y2="607.2"/>
<line x1="119.03" y1="604" x2="119.03" y2="607.2"/>
<line x1="126.66" y1="604" x2="126.66" y2="607.2"/>
<line x1="134.28" y1="604" x2="134.28" y2="607.2"/>
<line x1="141.91" y1="604" x2="141.91" y2="607.2"/>
<line x1="149.53" y1="604" x2="149.53" y2="607.2"/>
<line x1="157.16" y1="604" x2="157.16" y2="607.2"/>
<line x1="164.78" y1="604" x2="164.78" y2="607.2"/>
<line x1="172.41" y1="604" x2="172.41" y2="607.2"/>
<line x1="180.03" y1="604" x2="180.03" y2="607.2"/>
<line x1="187.66" y1="604" x2="187.66" y2="607.2"/>
<line x1="195.29" y1="604" x2="195.29" y2="607.2"/>
<line x1="202.91" y1="604" x2="202.91" y2="607.2"/>
<line x1="210.54" y1="604" x2="210.54" y2="607.2"/>
<line x1="218.16" y1="604" x2="218.16" y2="607.2"/>
<line x1="225.79" y1="604" x2="225.79" y2="607.2"/>
<line x1="233.41" y1="604" x2="233.41" y2="607.2"/>
<line x1="241.04" y1="604" x2="241.04" y2="607.2"/>
<line x1="248.67" y1="604" x2="248.67" y2="607.2"/>
<line x1="256.29" y1="604" x2="256.29" y2="607.2"/>
<line x1="263.92" y1="604" x2="263.92" y2="607.2"/>
<line x1="271.54" y1="604" x2="271.54" y2="607.2"/>
<line x1="279.17" y1="604" x2="279.17" y2="607.2"/>
<line x1="286.79" y1="604" x2="286.79" y2="607.2"/>
<line x1="294.42" y1="604" x2="294.42" y2="607.2"/>
<line x1="302.04" y1="604" x2="302.04" y2="607.2"/>
<line x1="309.67" y1="604" x2="309.67" y2="607.2"/>
<line x1="317.3" y1="604" x2="317.3" y2="607.2"/>
<line x1="324.92" y1="604" x2="324.92" y2="607.2"/>
<line x1="332.55" y1="604" x2="332.55" y2="607.2"/>
<line x1="340.17" y1="604" x2="340.17" y2="607.2"/>
<line x1="347.8" y1="604" x2="347.8" y2="607.2"/>
<line x1="355.42" y1="604" x2="355.42" y2="607.2"/>
<line x1="363.05" y1="604" x2="363.05" y2="607.2"/>
<line x1="370.67" y1="604" x2="370.67" y2="607.2"/>
<line x1="378.3" y1="604" x2="378.3" y2="607.2"/>
</g>
<text x="41.9" y="447.9" font-size="10" font-family='"Liberation Sans", "Noto Sans CJK SC", sans-serif' text-anchor="end" font-weight="normal" font-style="normal" fill="#000" stroke="#000" stroke-width="0.25">50</text>
<text x="41.9" y="463.99" font-size="10" font-family='"Liberation Sans", "Noto Sans CJK SC", sans-serif' text-anchor="end" font-weight="normal" font-style="normal" fill="#000" stroke="#000" stroke-width="0.25">45</text>
<text x="41.9" y="480.08" font-size="10" font-family='"Liberation Sans", "Noto Sans CJK SC", sans-serif' text-anchor="end" font-weight="normal" font-style="normal" fill="#000" stroke="#000" stroke-width="0.25">40</text>
<text x="41.9" y="496.17" font-size="10" font-family='"Liberation Sans", "Noto Sans CJK SC", sans-serif' text-anchor="end" font-weight="normal" font-style="normal" fill="#000" stroke="#000" stroke-width="0.25">35</text>
<text x="41.9" y="512.26" font-size="10" font-family='"Liberation Sans", "Noto Sans CJK SC", sans-serif' text-anchor="end" font-weight="normal" font-style="normal" fill="#000" stroke="#000" stroke-width="0.25">30</text>
<text x="41.9" y="528.35" font-size="10" font-family='"Liberation Sans", "Noto Sans CJK SC", sans-serif' text-anchor="end" font-weight="normal" font-style="normal" fill="#000" stroke="#000" stroke-width="0.25">25</text>
<text x="41.9" y="544.44" font-size="10" font-family='"Liberation Sans", "Noto Sans CJK SC", sans-serif' text-anchor="end" font-weight="normal" font-style="normal" fill="#000" stroke="#000" stroke-width="0.25">20</text>
<text x="41.9" y="560.53" font-size="10" font-family='"Liberation Sans", "Noto Sans CJK SC", sans-serif' text-anchor="end" font-weight="normal" font-style="normal" fill="#000" stroke="#000" stroke-width="0.25">15</text>
<text x="41.9" y="576.62" font-size="10" font-family='"Liberation Sans", "Noto Sans CJK SC", sans-serif' text-anchor="end" font-weight="normal" font-style="normal" fill="#000" stroke="#000" stroke-width="0.25">10</text>
<text x="41.9" y="592.71" font-size="10" font-family='"Liberation Sans", "Noto Sans CJK SC", sans-serif' text-anchor="end" font-weight="normal" font-style="normal" fill="#000" stroke="#000" stroke-width="0.25">5</text>
<text x="41.9" y="608.8" font-size="10" font-family='"Liberation Sans", "Noto Sans CJK SC", sans-serif' text-anchor="end" font-weight="normal" font-style="normal" fill="#000" stroke="#000" stroke-width="0.25">0</text>
<text x="387.3" y="447.9" font-size="10" font-family='"Liberation Sans", "Noto Sans CJK SC", sans-serif' text-anchor="start" font-weight="normal" font-style="normal" fill="#000" stroke="#000" stroke-width="0.25">50%</text>
<text x="387.3" y="463.99" font-size="10" font-family='"Liberation Sans", "Noto Sans CJK SC", sans-serif' text-anchor="start" font-weight="normal" font-style="normal" fill="#000" stroke="#000" stroke-width="0.25">40%</text>
<text x="387.3" y="480.08" font-size="10" font-family='"Liberation Sans", "Noto Sans CJK SC", sans-serif' text-anchor="start" font-weight="normal" font-style="normal" fill="#000" stroke="#000" stroke-width="0.25">30%</text>
<text x="387.3" y="496.17" font-size="10" font-family='"Liberation Sans", "Noto Sans CJK SC", sans-serif' text-anchor="start" font-weight="normal" font-style="normal" fill="#000" stroke="#000" stroke-width="0.25">20%</text>
<text x="387.3" y="512.26" font-size="10" font-family='"Liberation Sans", "Noto Sans CJK SC", sans-serif' text-anchor="start" font-weight="normal" font-style="normal" fill="#000" stroke="#000" stroke-width="0.25">10%</text>
<text x="387.3" y="528.35" font-size="10" font-family='"Liberation Sans", "Noto Sans CJK SC", sans-serif' text-anchor="start" font-weight="normal" font-style="normal" fill="#000" stroke="#000" stroke-width="0.25">0%</text>
<text x="387.3" y="544.44" font-size="10" font-family='"Liberation Sans", "Noto Sans CJK SC", sans-serif' text-anchor="start" font-weight="normal" font-style="normal" fill="#000" stroke="#000" stroke-width="0.25">-10%</text>
<text x="387.3" y="560.53" font-size="10" font-family='"Liberation Sans", "Noto Sans CJK SC", sans-serif' text-anchor="start" font-weight="normal" font-style="normal" fill="#000" stroke="#000" stroke-width="0.25">-20%</text>
<text x="387.3" y="576.62" font-size="10" font-family='"Liberation Sans", "Noto Sans CJK SC", sans-serif' text-anchor="start" font-weight="normal" font-style="normal" fill="#000" stroke="#000" stroke-width="0.25">-30%</text>
<text x="387.3" y="592.71" font-size="10" font-family='"Liberation Sans", "Noto Sans CJK SC", sans-serif' text-anchor="start" font-weight="normal" font-style="normal" fill="#000" stroke="#000" stroke-width="0.25">-40%</text>
<text x="387.3" y="608.8" font-size="10" font-family='"Liberation Sans", "Noto Sans CJK SC", sans-serif' text-anchor="start" font-weight="normal" font-style="normal" fill="#000" stroke="#000" stroke-width="0.25">-50%</text>
<text transform="translate(58.01 611.6) rotate(-90)" font-size="10" font-family='"Liberation Sans", "Noto Sans CJK SC", sans-serif' text-anchor="end" stroke="#000" stroke-width="0.25">1978</text>
<text transform="translate(73.26 611.6) rotate(-90)" font-size="10" font-family='"Liberation Sans", "Noto Sans CJK SC", sans-serif' text-anchor="end" stroke="#000" stroke-width="0.25">1980</text>
<text transform="translate(88.52 611.6) rotate(-90)" font-size="10" font-family='"Liberation Sans", "Noto Sans CJK SC", sans-serif' text-anchor="end" stroke="#000" stroke-width="0.25">1982</text>
<text transform="translate(103.77 611.6) rotate(-90)" font-size="10" font-family='"Liberation Sans", "Noto Sans CJK SC", sans-serif' text-anchor="end" stroke="#000" stroke-width="0.25">1984</text>
<text transform="translate(119.02 611.6) rotate(-90)" font-size="10" font-family='"Liberation Sans", "Noto Sans CJK SC", sans-serif' text-anchor="end" stroke="#000" stroke-width="0.25">1986</text>
<text transform="translate(134.27 611.6) rotate(-90)" font-size="10" font-family='"Liberation Sans", "Noto Sans CJK SC", sans-serif' text-anchor="end" stroke="#000" stroke-width="0.25">1988</text>
<text transform="translate(149.52 611.6) rotate(-90)" font-size="10" font-family='"Liberation Sans", "Noto Sans CJK SC", sans-serif' text-anchor="end" stroke="#000" stroke-width="0.25">1990</text>
<text transform="translate(164.77 611.6) rotate(-90)" font-size="10" font-family='"Liberation Sans", "Noto Sans CJK SC", sans-serif' text-anchor="end" stroke="#000" stroke-width="0.25">1992</text>
<text transform="translate(180.02 611.6) rotate(-90)" font-size="10" font-family='"Liberation Sans", "Noto Sans CJK SC", sans-serif' text-anchor="end" stroke="#000" stroke-width="0.25">1994</text>
<text transform="translate(195.27 611.6) rotate(-90)" font-size="10" font-family='"Liberation Sans", "Noto Sans CJK SC", sans-serif' text-anchor="end" stroke="#000" stroke-width="0.25">1996</text>
<text transform="translate(210.52 611.6) rotate(-90)" font-size="10" font-family='"Liberation Sans", "Noto Sans CJK SC", sans-serif' text-anchor="end" stroke="#000" stroke-width="0.25">1998</text>
<text transform="translate(225.78 611.6) rotate(-90)" font-size="10" font-family='"Liberation Sans", "Noto Sans CJK SC", sans-serif' text-anchor="end" stroke="#000" stroke-width="0.25">2000</text>
<text transform="translate(241.03 611.6) rotate(-90)" font-size="10" font-family='"Liberation Sans", "Noto Sans CJK SC", sans-serif' text-anchor="end" stroke="#000" stroke-width="0.25">2002</text>
<text transform="translate(256.28 611.6) rotate(-90)" font-size="10" font-family='"Liberation Sans", "Noto Sans CJK SC", sans-serif' text-anchor="end" stroke="#000" stroke-width="0.25">2004</text>
<text transform="translate(271.53 611.6) rotate(-90)" font-size="10" font-family='"Liberation Sans", "Noto Sans CJK SC", sans-serif' text-anchor="end" stroke="#000" stroke-width="0.25">2006</text>
<text transform="translate(286.78 611.6) rotate(-90)" font-size="10" font-family='"Liberation Sans", "Noto Sans CJK SC", sans-serif' text-anchor="end" stroke="#000" stroke-width="0.25">2008</text>
<text transform="translate(302.03 611.6) rotate(-90)" font-size="10" font-family='"Liberation Sans", "Noto Sans CJK SC", sans-serif' text-anchor="end" stroke="#000" stroke-width="0.25">2010</text>
<text transform="translate(317.28 611.6) rotate(-90)" font-size="10" font-family='"Liberation Sans", "Noto Sans CJK SC", sans-serif' text-anchor="end" stroke="#000" stroke-width="0.25">2012</text>
<text transform="translate(332.53 611.6) rotate(-90)" font-size="10" font-family='"Liberation Sans", "Noto Sans CJK SC", sans-serif' text-anchor="end" stroke="#000" stroke-width="0.25">2014</text>
<text transform="translate(347.78 611.6) rotate(-90)" font-size="10" font-family='"Liberation Sans", "Noto Sans CJK SC", sans-serif' text-anchor="end" stroke="#000" stroke-width="0.25">2016</text>
<text transform="translate(363.04 611.6) rotate(-90)" font-size="10" font-family='"Liberation Sans", "Noto Sans CJK SC", sans-serif' text-anchor="end" stroke="#000" stroke-width="0.25">2018</text>
<text transform="translate(378.29 611.6) rotate(-90)" font-size="10" font-family='"Liberation Sans", "Noto Sans CJK SC", sans-serif' text-anchor="end" stroke="#000" stroke-width="0.25">2020</text>
<path d="M61.84 502.3C63.11 503.67 66.92 508.02 69.46 510.54C72.01 513.06 74.55 519.18 77.09 517.41C79.63 515.65 82.17 502.63 84.72 499.94C87.26 497.26 89.8 501.09 92.34 501.32C94.88 501.55 97.42 502.53 99.97 501.32C102.51 500.11 105.05 494.22 107.59 494.05C110.13 493.89 112.68 498.73 115.22 500.34C117.76 501.94 120.3 503.35 122.84 503.67C125.38 504 127.98 499.33 130.47 502.3C133.01 505.34 135.55 518.33 138.09 521.93C140.37 525.15 144 527.43 145.72 523.89C148.26 518.66 150.8 496.41 153.35 490.52C154.91 486.91 158.43 488.23 160.97 488.56C163.51 488.88 166.05 490.52 168.6 492.48C171.14 494.45 173.68 498.63 176.22 500.34C178.76 502.04 181.31 499.68 183.85 502.69C186.39 505.7 188.93 516.01 191.47 518.4C194.02 520.78 196.56 517.41 199.1 517.02C201.64 516.63 204.18 516.79 206.72 516.04C209.27 515.29 211.81 512.34 214.35 512.51C216.89 512.67 219.43 518.07 221.98 517.02C224.52 515.98 227.06 507.86 229.6 506.22C232.14 504.59 234.68 509.24 237.23 507.21C239.77 505.18 242.31 494.38 244.85 494.05C247.39 493.73 249.94 503.12 252.48 505.24C255.02 507.37 257.56 507.89 260.1 506.81C262.65 505.73 265.19 498.7 267.73 498.77C270.27 498.83 272.81 504.26 275.35 507.21C277.9 510.15 280.44 517.91 282.98 516.43C285.52 514.96 288.06 501.06 290.61 498.37C293.15 495.69 295.69 499.19 298.23 500.34C300.77 501.48 303.32 502.95 305.86 505.24C308.4 507.53 310.94 513.59 313.48 514.08C316.02 514.57 318.57 507.7 321.11 508.19C323.65 508.68 326.19 513.26 328.73 517.02C331.28 520.78 333.82 530.21 336.36 530.76C338.9 531.32 341.44 520.78 343.98 520.36C346.53 519.93 349.07 526.48 351.61 528.21C354.15 529.95 356.69 532.86 359.24 530.76C361.78 528.67 364.32 517.45 366.86 515.65C369.4 513.85 373.22 519.25 374.49 519.97" fill="none" stroke="#c9151e" stroke-width="1.75" stroke-linecap="round" stroke-linejoin="round"/>
<path d="M61.84 496.41C63.11 495.95 66.92 491.76 69.46 493.66C72.01 495.56 74.55 507.4 77.09 507.8C79.63 508.19 82.17 497.59 84.72 496.02C87.26 494.45 89.8 497.82 92.34 498.37C94.88 498.93 97.42 500.07 99.97 499.35C102.51 498.63 105.05 491.44 107.59 494.05C110.13 496.67 112.68 513.36 115.22 515.06C117.76 516.76 120.3 509.76 122.84 504.26C125.38 498.77 127.93 483.06 130.47 482.08C133.01 481.1 135.55 490.26 138.09 498.37C140.64 506.49 143.18 528.74 145.72 530.76C148.26 532.79 150.8 513.72 153.35 510.54C155.76 507.53 158.43 514.47 160.97 511.72C163.51 508.97 166.05 494.09 168.6 494.05C171.14 494.02 173.68 515.22 176.22 511.53C178.76 507.83 181.31 470.37 183.85 471.87C186.39 473.38 188.93 512.87 191.47 520.56C192.74 524.37 196.56 518.36 199.1 518C201.64 517.64 204.18 517.81 206.72 518.4C209.27 518.99 211.81 522.09 214.35 521.54C216.89 520.98 219.43 518.59 221.98 515.06C224.52 511.53 227.06 502.14 229.6 500.34C232.14 498.54 234.68 505.73 237.23 504.26C239.77 502.79 242.31 497.46 244.85 491.5C247.39 485.55 249.94 465.49 252.48 468.53C255.02 471.58 257.56 504.95 260.1 509.76C262.65 514.57 265.19 499.45 267.73 497.39C270.27 495.33 272.81 495.92 275.35 497.39C277.9 498.86 280.44 501.32 282.98 506.22C285.52 511.13 288.06 527.66 290.61 526.84C293.15 526.02 295.69 507.21 298.23 501.32C300.69 495.61 303.32 486.43 305.86 491.5C308.4 496.57 310.94 528.15 313.48 531.75C316.02 535.34 318.57 515.55 321.11 513.1C323.65 510.64 326.19 513.85 328.73 517.02C331.28 520.2 333.82 531.81 336.36 532.14C338.9 532.46 341.44 521.6 343.98 518.99C346.53 516.37 349.07 518.95 351.61 516.43C354.15 513.91 356.69 502.69 359.24 503.87C361.78 505.05 364.32 520.26 366.86 523.5C369.22 526.5 373.22 523.34 374.49 523.3" fill="none" stroke="#00358a" stroke-width="1.75" stroke-linecap="round" stroke-linejoin="round"/>
<line x1="6.1" y1="650.5" x2="422.5" y2="650.5" stroke="#a4a4a4" stroke-width="1"/>
<text transform="translate(7.1 670.4) scale(0.94 1)" font-size="15" font-family='"Liberation Sans", "Noto Sans CJK SC", sans-serif' text-anchor="start" font-weight="500" font-style="italic" fill="#000" textLength="324.47" lengthAdjust="spacing" stroke="#000" stroke-width="0.2">资料来源<tspan lang="ja" font-family='"Noto Sans CJK JP", sans-serif'>：</tspan>wind、国家统计局、粤开证券研究院</text>
<rect x="446.1" y="377.5" width="55" height="15" fill="#fcfcfc"/>
<text x="448.1" y="391" font-size="15" font-family='"Liberation Sans", "Noto Sans CJK SC", sans-serif' text-anchor="start" font-weight="bold" font-style="normal" fill="#ffffff">图表8：</text>
<text transform="translate(505 391) scale(0.9 1)" font-size="17.5" font-family='"Liberation Sans", "Noto Sans CJK SC", sans-serif' text-anchor="start" font-weight="bold" font-style="normal" fill="#000" textLength="264.67" lengthAdjust="spacing" stroke="#000" stroke-width="0.3">我国微型计算机、手机产量变化</text>
<line x1="444.1" y1="397.5" x2="860" y2="397.5" stroke="#a8a8a8" stroke-width="1.1"/>
<rect x="470.8" y="410.6" width="21.4" height="5" fill="#c9151e"/>
<text transform="translate(495 412.4) scale(1 0.9)" y="3.5" font-size="9.6" letter-spacing="0.4" font-weight="500" font-family='"Liberation Serif", "Noto Serif CJK SC", serif'>我国微型电子计算机产量（亿台）</text>
<line x1="470.8" y1="427.3" x2="493.2" y2="427.3" stroke="#c9151e" stroke-width="1.5"/>
<text transform="translate(495 427.6) scale(1 0.9)" y="3.5" font-size="9.6" letter-spacing="0.4" font-weight="500" font-family='"Liberation Serif", "Noto Serif CJK SC", serif'>微机产量同比（右轴）</text>
<rect x="665.3" y="410.6" width="21.5" height="5" fill="#00358a"/>
<text transform="translate(690 412.4) scale(1 0.9)" y="3.5" font-size="9.6" letter-spacing="0.4" font-weight="500" font-family='"Liberation Serif", "Noto Serif CJK SC", serif'>我国手机产量（亿台）</text>
<line x1="665.3" y1="427.2" x2="687.7" y2="427.2" stroke="#00358a" stroke-width="1.5"/>
<text transform="translate(690 427.6) scale(1 0.9)" y="3.5" font-size="9.6" letter-spacing="0.4" font-weight="500" font-family='"Liberation Serif", "Noto Serif CJK SC", serif'>手机产量同比（右轴）</text>
<rect x="487.4" y="603.67" width="4.6" height="0.13" fill="#c9151e"/>
<rect x="502.99" y="603.67" width="4.6" height="0.13" fill="#c9151e"/>
<rect x="518.57" y="603.59" width="4.6" height="0.21" fill="#c9151e"/>
<rect x="534.16" y="602.75" width="4.6" height="1.05" fill="#c9151e"/>
<rect x="549.74" y="601.17" width="4.6" height="2.63" fill="#c9151e"/>
<rect x="565.33" y="600.38" width="4.6" height="3.42" fill="#c9151e"/>
<rect x="580.91" y="599.33" width="4.6" height="4.47" fill="#c9151e"/>
<rect x="596.5" y="597.76" width="4.6" height="6.04" fill="#c9151e"/>
<rect x="612.09" y="596.18" width="4.6" height="7.62" fill="#c9151e"/>
<rect x="627.67" y="594.34" width="4.6" height="9.46" fill="#c9151e"/>
<rect x="643.26" y="591.19" width="4.6" height="12.61" fill="#c9151e"/>
<rect x="658.84" y="586.98" width="4.6" height="16.82" fill="#c9151e"/>
<rect x="674.43" y="586.98" width="4.6" height="16.82" fill="#c9151e"/>
<rect x="690.01" y="585.41" width="4.6" height="18.39" fill="#c9151e"/>
<rect x="705.6" y="585.41" width="4.6" height="18.39" fill="#c9151e"/>
<rect x="721.19" y="588.04" width="4.6" height="15.76" fill="#c9151e"/>
<rect x="736.77" y="588.82" width="4.6" height="14.98" fill="#c9151e"/>
<rect x="752.36" y="588.04" width="4.6" height="15.76" fill="#c9151e"/>
<rect x="767.94" y="588.04" width="4.6" height="15.76" fill="#c9151e"/>
<rect x="783.53" y="586.2" width="4.6" height="17.6" fill="#c9151e"/>
<rect x="799.11" y="583.83" width="4.6" height="19.97" fill="#c9151e"/>
<rect x="492" y="601.96" width="4.6" height="1.84" fill="#00358a"/>
<rect x="507.59" y="600.38" width="4.6" height="3.42" fill="#00358a"/>
<rect x="523.17" y="597.76" width="4.6" height="6.04" fill="#00358a"/>
<rect x="538.76" y="594.34" width="4.6" height="9.46" fill="#00358a"/>
<rect x="554.34" y="592.24" width="4.6" height="11.56" fill="#00358a"/>
<rect x="569.93" y="588.04" width="4.6" height="15.76" fill="#00358a"/>
<rect x="585.51" y="578.84" width="4.6" height="24.96" fill="#00358a"/>
<rect x="601.1" y="574.64" width="4.6" height="29.16" fill="#00358a"/>
<rect x="616.69" y="574.64" width="4.6" height="29.16" fill="#00358a"/>
<rect x="632.27" y="568.33" width="4.6" height="35.47" fill="#00358a"/>
<rect x="647.86" y="550.73" width="4.6" height="53.07" fill="#00358a"/>
<rect x="663.44" y="544.42" width="4.6" height="59.38" fill="#00358a"/>
<rect x="679.03" y="541" width="4.6" height="62.8" fill="#00358a"/>
<rect x="694.61" y="522.61" width="4.6" height="81.19" fill="#00358a"/>
<rect x="710.2" y="514.47" width="4.6" height="89.33" fill="#00358a"/>
<rect x="725.79" y="507.64" width="4.6" height="96.16" fill="#00358a"/>
<rect x="741.37" y="505.27" width="4.6" height="98.53" fill="#00358a"/>
<rect x="756.96" y="503.43" width="4.6" height="100.37" fill="#00358a"/>
<rect x="772.54" y="507.64" width="4.6" height="96.16" fill="#00358a"/>
<rect x="788.13" y="513.42" width="4.6" height="90.38" fill="#00358a"/>
<rect x="803.71" y="526.03" width="4.6" height="77.77" fill="#00358a"/>
<g stroke="#a6a6a6" stroke-width="1" fill="none">
<line x1="484" y1="443.1" x2="484" y2="603.8"/>
<line x1="811.3" y1="443.1" x2="811.3" y2="603.8"/>
<line x1="484" y1="603.8" x2="811.3" y2="603.8"/>
<line x1="480.8" y1="443.1" x2="484" y2="443.1"/>
<line x1="480.8" y1="469.88" x2="484" y2="469.88"/>
<line x1="480.8" y1="496.67" x2="484" y2="496.67"/>
<line x1="480.8" y1="523.45" x2="484" y2="523.45"/>
<line x1="480.8" y1="550.23" x2="484" y2="550.23"/>
<line x1="480.8" y1="577.02" x2="484" y2="577.02"/>
<line x1="480.8" y1="603.8" x2="484" y2="603.8"/>
<line x1="811.3" y1="443.1" x2="814.5" y2="443.1"/>
<line x1="811.3" y1="469.88" x2="814.5" y2="469.88"/>
<line x1="811.3" y1="496.67" x2="814.5" y2="496.67"/>
<line x1="811.3" y1="523.45" x2="814.5" y2="523.45"/>
<line x1="811.3" y1="550.23" x2="814.5" y2="550.23"/>
<line x1="811.3" y1="577.02" x2="814.5" y2="577.02"/>
<line x1="811.3" y1="603.8" x2="814.5" y2="603.8"/>
<line x1="484" y1="603.8" x2="484" y2="607"/>
<line x1="499.59" y1="603.8" x2="499.59" y2="607"/>
<line x1="515.17" y1="603.8" x2="515.17" y2="607"/>
<line x1="530.76" y1="603.8" x2="530.76" y2="607"/>
<line x1="546.34" y1="603.8" x2="546.34" y2="607"/>
<line x1="561.93" y1="603.8" x2="561.93" y2="607"/>
<line x1="577.51" y1="603.8" x2="577.51" y2="607"/>
<line x1="593.1" y1="603.8" x2="593.1" y2="607"/>
<line x1="608.69" y1="603.8" x2="608.69" y2="607"/>
<line x1="624.27" y1="603.8" x2="624.27" y2="607"/>
<line x1="639.86" y1="603.8" x2="639.86" y2="607"/>
<line x1="655.44" y1="603.8" x2="655.44" y2="607"/>
<line x1="671.03" y1="603.8" x2="671.03" y2="607"/>
<line x1="686.61" y1="603.8" x2="686.61" y2="607"/>
<line x1="702.2" y1="603.8" x2="702.2" y2="607"/>
<line x1="717.79" y1="603.8" x2="717.79" y2="607"/>
<line x1="733.37" y1="603.8" x2="733.37" y2="607"/>
<line x1="748.96" y1="603.8" x2="748.96" y2="607"/>
<line x1="764.54" y1="603.8" x2="764.54" y2="607"/>
<line x1="780.13" y1="603.8" x2="780.13" y2="607"/>
<line x1="795.71" y1="603.8" x2="795.71" y2="607"/>
<line x1="811.3" y1="603.8" x2="811.3" y2="607"/>
</g>
<text x="475.5" y="447.9" font-size="10" font-family='"Liberation Sans", "Noto Sans CJK SC", sans-serif' text-anchor="end" font-weight="normal" font-style="normal" fill="#000" stroke="#000" stroke-width="0.25">30</text>
<text x="475.5" y="474.68" font-size="10" font-family='"Liberation Sans", "Noto Sans CJK SC", sans-serif' text-anchor="end" font-weight="normal" font-style="normal" fill="#000" stroke="#000" stroke-width="0.25">25</text>
<text x="475.5" y="501.47" font-size="10" font-family='"Liberation Sans", "Noto Sans CJK SC", sans-serif' text-anchor="end" font-weight="normal" font-style="normal" fill="#000" stroke="#000" stroke-width="0.25">20</text>
<text x="475.5" y="528.25" font-size="10" font-family='"Liberation Sans", "Noto Sans CJK SC", sans-serif' text-anchor="end" font-weight="normal" font-style="normal" fill="#000" stroke="#000" stroke-width="0.25">15</text>
<text x="475.5" y="555.03" font-size="10" font-family='"Liberation Sans", "Noto Sans CJK SC", sans-serif' text-anchor="end" font-weight="normal" font-style="normal" fill="#000" stroke="#000" stroke-width="0.25">10</text>
<text x="475.5" y="581.82" font-size="10" font-family='"Liberation Sans", "Noto Sans CJK SC", sans-serif' text-anchor="end" font-weight="normal" font-style="normal" fill="#000" stroke="#000" stroke-width="0.25">5</text>
<text x="475.5" y="608.6" font-size="10" font-family='"Liberation Sans", "Noto Sans CJK SC", sans-serif' text-anchor="end" font-weight="normal" font-style="normal" fill="#000" stroke="#000" stroke-width="0.25">0</text>
<text x="821" y="447.9" font-size="10" font-family='"Liberation Sans", "Noto Sans CJK SC", sans-serif' text-anchor="start" font-weight="normal" font-style="normal" fill="#000" stroke="#000" stroke-width="0.25">150%</text>
<text x="821" y="474.68" font-size="10" font-family='"Liberation Sans", "Noto Sans CJK SC", sans-serif' text-anchor="start" font-weight="normal" font-style="normal" fill="#000" stroke="#000" stroke-width="0.25">100%</text>
<text x="821" y="501.47" font-size="10" font-family='"Liberation Sans", "Noto Sans CJK SC", sans-serif' text-anchor="start" font-weight="normal" font-style="normal" fill="#000" stroke="#000" stroke-width="0.25">50%</text>
<text x="821" y="528.25" font-size="10" font-family='"Liberation Sans", "Noto Sans CJK SC", sans-serif' text-anchor="start" font-weight="normal" font-style="normal" fill="#000" stroke="#000" stroke-width="0.25">0%</text>
<text x="821" y="555.03" font-size="10" font-family='"Liberation Sans", "Noto Sans CJK SC", sans-serif' text-anchor="start" font-weight="normal" font-style="normal" fill="#000" stroke="#000" stroke-width="0.25">-50%</text>
<text x="821" y="581.82" font-size="10" font-family='"Liberation Sans", "Noto Sans CJK SC", sans-serif' text-anchor="start" font-weight="normal" font-style="normal" fill="#000" stroke="#000" stroke-width="0.25">-100%</text>
<text x="821" y="608.6" font-size="10" font-family='"Liberation Sans", "Noto Sans CJK SC", sans-serif' text-anchor="start" font-weight="normal" font-style="normal" fill="#000" stroke="#000" stroke-width="0.25">-150%</text>
<text transform="translate(496.19 611.4) rotate(-90)" font-size="10" font-family='"Liberation Sans", "Noto Sans CJK SC", sans-serif' text-anchor="end" stroke="#000" stroke-width="0.25">2000</text>
<text transform="translate(511.78 611.4) rotate(-90)" font-size="10" font-family='"Liberation Sans", "Noto Sans CJK SC", sans-serif' text-anchor="end" stroke="#000" stroke-width="0.25">2001</text>
<text transform="translate(527.36 611.4) rotate(-90)" font-size="10" font-family='"Liberation Sans", "Noto Sans CJK SC", sans-serif' text-anchor="end" stroke="#000" stroke-width="0.25">2002</text>
<text transform="translate(542.95 611.4) rotate(-90)" font-size="10" font-family='"Liberation Sans", "Noto Sans CJK SC", sans-serif' text-anchor="end" stroke="#000" stroke-width="0.25">2003</text>
<text transform="translate(558.54 611.4) rotate(-90)" font-size="10" font-family='"Liberation Sans", "Noto Sans CJK SC", sans-serif' text-anchor="end" stroke="#000" stroke-width="0.25">2004</text>
<text transform="translate(574.12 611.4) rotate(-90)" font-size="10" font-family='"Liberation Sans", "Noto Sans CJK SC", sans-serif' text-anchor="end" stroke="#000" stroke-width="0.25">2005</text>
<text transform="translate(589.71 611.4) rotate(-90)" font-size="10" font-family='"Liberation Sans", "Noto Sans CJK SC", sans-serif' text-anchor="end" stroke="#000" stroke-width="0.25">2006</text>
<text transform="translate(605.29 611.4) rotate(-90)" font-size="10" font-family='"Liberation Sans", "Noto Sans CJK SC", sans-serif' text-anchor="end" stroke="#000" stroke-width="0.25">2007</text>
<text transform="translate(620.88 611.4) rotate(-90)" font-size="10" font-family='"Liberation Sans", "Noto Sans CJK SC", sans-serif' text-anchor="end" stroke="#000" stroke-width="0.25">2008</text>
<text transform="translate(636.46 611.4) rotate(-90)" font-size="10" font-family='"Liberation Sans", "Noto Sans CJK SC", sans-serif' text-anchor="end" stroke="#000" stroke-width="0.25">2009</text>
<text transform="translate(652.05 611.4) rotate(-90)" font-size="10" font-family='"Liberation Sans", "Noto Sans CJK SC", sans-serif' text-anchor="end" stroke="#000" stroke-width="0.25">2010</text>
<text transform="translate(667.64 611.4) rotate(-90)" font-size="10" font-family='"Liberation Sans", "Noto Sans CJK SC", sans-serif' text-anchor="end" stroke="#000" stroke-width="0.25">2011</text>
<text transform="translate(683.22 611.4) rotate(-90)" font-size="10" font-family='"Liberation Sans", "Noto Sans CJK SC", sans-serif' text-anchor="end" stroke="#000" stroke-width="0.25">2012</text>
<text transform="translate(698.81 611.4) rotate(-90)" font-size="10" font-family='"Liberation Sans", "Noto Sans CJK SC", sans-serif' text-anchor="end" stroke="#000" stroke-width="0.25">2013</text>
<text transform="translate(714.39 611.4) rotate(-90)" font-size="10" font-family='"Liberation Sans", "Noto Sans CJK SC", sans-serif' text-anchor="end" stroke="#000" stroke-width="0.25">2014</text>
<text transform="translate(729.98 611.4) rotate(-90)" font-size="10" font-family='"Liberation Sans", "Noto Sans CJK SC", sans-serif' text-anchor="end" stroke="#000" stroke-width="0.25">2015</text>
<text transform="translate(745.56 611.4) rotate(-90)" font-size="10" font-family='"Liberation Sans", "Noto Sans CJK SC", sans-serif' text-anchor="end" stroke="#000" stroke-width="0.25">2016</text>
<text transform="translate(761.15 611.4) rotate(-90)" font-size="10" font-family='"Liberation Sans", "Noto Sans CJK SC", sans-serif' text-anchor="end" stroke="#000" stroke-width="0.25">2017</text>
<text transform="translate(776.74 611.4) rotate(-90)" font-size="10" font-family='"Liberation Sans", "Noto Sans CJK SC", sans-serif' text-anchor="end" stroke="#000" stroke-width="0.25">2018</text>
<text transform="translate(792.32 611.4) rotate(-90)" font-size="10" font-family='"Liberation Sans", "Noto Sans CJK SC", sans-serif' text-anchor="end" stroke="#000" stroke-width="0.25">2019</text>
<text transform="translate(807.91 611.4) rotate(-90)" font-size="10" font-family='"Liberation Sans", "Noto Sans CJK SC", sans-serif' text-anchor="end" stroke="#000" stroke-width="0.25">2020</text>
<path d="M507.38 507.52C509.98 504.15 517.77 495.31 522.96 487.29C528.16 479.28 533.35 461.19 538.55 459.44C543.75 457.69 548.94 469.51 554.14 476.78C559.33 484.05 564.53 496.71 569.72 503.06C574.92 509.41 580.11 514.09 585.31 514.88C590.5 515.67 595.7 509.19 600.89 507.79C606.09 506.39 611.28 505.16 616.48 506.47C621.67 507.79 626.87 516.02 632.06 515.67C637.26 515.32 642.45 505.82 647.65 504.37C652.85 502.93 658.04 503.72 663.24 507C668.43 510.28 673.63 522.33 678.82 524.08C684.02 525.83 689.21 517.6 694.41 517.51C699.6 517.42 704.8 521.58 709.99 523.55C715.19 525.52 720.38 528.59 725.58 529.33C730.77 530.08 735.97 529.46 741.16 528.02C746.36 526.57 751.55 521.67 756.75 520.66C761.95 519.65 767.14 522.28 772.34 521.98C777.53 521.67 782.73 519.57 787.92 518.82C793.12 518.08 800.91 517.73 803.51 517.51" fill="none" stroke="#c9151e" stroke-width="1.75" stroke-linecap="round" stroke-linejoin="round"/>
<path d="M507.38 495.18C509.98 495.39 517.77 496.27 522.96 496.49C528.16 496.71 533.35 494.87 538.55 496.49C543.75 498.11 548.94 504.15 554.14 506.21C559.33 508.27 564.53 511.12 569.72 508.84C574.92 506.56 580.11 492.11 585.31 492.55C590.5 492.99 595.7 506.43 600.89 511.47C606.09 516.5 611.28 522.5 616.48 522.76C621.67 523.03 626.87 516.98 632.06 513.04C637.26 509.1 642.45 498.59 647.65 499.12C652.85 499.64 658.04 512.56 663.24 516.2C668.43 519.83 673.63 522.24 678.82 520.92C684.02 519.61 689.21 508.88 694.41 508.31C699.6 507.74 704.8 515.76 709.99 517.51C715.19 519.26 720.38 518.08 725.58 518.82C730.77 519.57 735.97 521.45 741.16 521.98C746.36 522.5 751.55 521.41 756.75 521.98C761.95 522.55 767.14 524.6 772.34 525.39C777.53 526.18 782.73 525.83 787.92 526.71C793.12 527.58 800.91 529.99 803.51 530.65" fill="none" stroke="#00358a" stroke-width="1.75" stroke-linecap="round" stroke-linejoin="round"/>
<line x1="444.1" y1="650.5" x2="860" y2="650.5" stroke="#a4a4a4" stroke-width="1"/>
<text transform="translate(445.1 670.4) scale(0.94 1)" font-size="15" font-family='"Liberation Sans", "Noto Sans CJK SC", sans-serif' text-anchor="start" font-weight="500" font-style="italic" fill="#000" textLength="324.47" lengthAdjust="spacing" stroke="#000" stroke-width="0.2">资料来源<tspan lang="ja" font-family='"Noto Sans CJK JP", sans-serif'>：</tspan>wind、国家统计局、粤开证券研究院</text>
</svg>
</body></html>
